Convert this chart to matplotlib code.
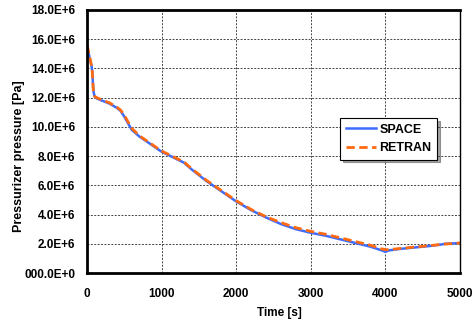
import matplotlib.pyplot as plt
from matplotlib.ticker import FixedLocator, FuncFormatter

# 시간 [s]
time_space = [0, 20, 40, 60, 70, 85, 100, 130, 200, 300, 400, 450, 500, 600, 700, 800,
              1000, 1200, 1300, 1400, 1600, 1800, 2000, 2200, 2400, 2600, 2800, 3000,
              3200, 3400, 3600, 3800, 3950, 4000, 4050, 4200, 4400, 4600, 4750, 4800, 5000]
p_space = [15.5, 15.1, 14.6, 14.2, 13.8, 12.5, 12.1, 11.95, 11.8, 11.6, 11.3, 11.1, 10.7,
           9.8, 9.35, 9.0, 8.3, 7.8, 7.55, 7.1, 6.3, 5.6, 4.9, 4.3, 3.8, 3.35, 3.0, 2.75,
           2.55, 2.3, 2.05, 1.8, 1.55, 1.45, 1.55, 1.65, 1.75, 1.85, 1.95, 2.0, 2.05]

time_retran = [0, 20, 40, 60, 70, 85, 100, 130, 200, 300, 400, 450, 500, 600, 700, 800,
               1000, 1200, 1300, 1400, 1600, 1800, 2000, 2200, 2400, 2600, 2800, 3000,
               3200, 3400, 3600, 3800, 3950, 4000, 4050, 4200, 4400, 4600, 4800, 5000]
p_retran = [15.6, 15.2, 14.7, 14.2, 13.8, 12.5, 12.1, 12.0, 11.85, 11.65, 11.35, 11.15, 10.8,
            9.9, 9.4, 9.05, 8.35, 7.85, 7.6, 7.15, 6.35, 5.65, 4.95, 4.35, 3.85, 3.45, 3.1,
            2.85, 2.65, 2.4, 2.15, 1.9, 1.65, 1.6, 1.6, 1.68, 1.78, 1.88, 1.98, 2.05]

yticks = [0, 2, 4, 6, 8, 10, 12, 14, 16, 18]
ylabels = ['000.0E+0', '2.0E+6', '4.0E+6', '6.0E+6', '8.0E+6', '10.0E+6',
           '12.0E+6', '14.0E+6', '16.0E+6', '18.0E+6']
xticks = [0, 1000, 2000, 3000, 4000, 5000]

plt.rcParams['font.family'] = ['Liberation Sans', 'DejaVu Sans']
plt.rcParams['font.weight'] = 'bold'

fig = plt.figure(figsize=(4.76, 3.25), dpi=100)
ax = fig.add_axes([87 / 476, 1 - 273 / 325, (460 - 87) / 476, (273 - 10) / 325])

ax.plot(time_space, [p * 1e6 for p in p_space],
        color='#3d6cff', lw=1.8, label='SPACE')
ax.plot(time_retran, [p * 1e6 for p in p_retran],
        color='#ff6a10', lw=2.0, ls=(0, (3, 1.6)), label='RETRAN')

ax.set_xlim(0, 5000)
ax.set_ylim(0, 18e6)
ax.xaxis.set_major_locator(FixedLocator(xticks))
ax.yaxis.set_major_locator(FixedLocator([v * 1e6 for v in yticks]))
ax.yaxis.set_major_formatter(FuncFormatter(lambda v, pos: ylabels[pos] if pos is not None and pos < len(ylabels) else ''))
ax.tick_params(axis='y', length=0, labelsize=8.5, pad=8.5)
ax.tick_params(axis='x', length=0, labelsize=8.5, pad=11)
for lab in ax.get_xticklabels() + ax.get_yticklabels():
    lab.set_fontweight('bold')

ax.grid(True, color='#444444', ls=(0, (2, 1.5)), lw=0.7)
for side in ['left', 'bottom', 'top']:
    ax.spines[side].set_linewidth(2.0)
ax.spines['right'].set_linewidth(1.0)

ax.set_xlabel('Time [s]', fontsize=8.5, fontweight='bold')
ax.set_ylabel('Pressurizer pressure [Pa]', fontsize=9, fontweight='bold')
ax.xaxis.set_label_coords(0.515, -0.129)
ax.yaxis.set_label_coords(-0.166, 0.443)

leg = ax.legend(loc='upper left', bbox_to_anchor=(0.678, 0.589), borderaxespad=0,
                prop={'weight': 'bold', 'size': 9}, frameon=True, fancybox=False,
                shadow=True, handlelength=2.4, borderpad=0.45, labelspacing=0.5,
                handletextpad=0.3)
leg.get_frame().set_edgecolor('black')
leg.get_frame().set_linewidth(0.8)

fig.savefig('out.png', dpi=100)
